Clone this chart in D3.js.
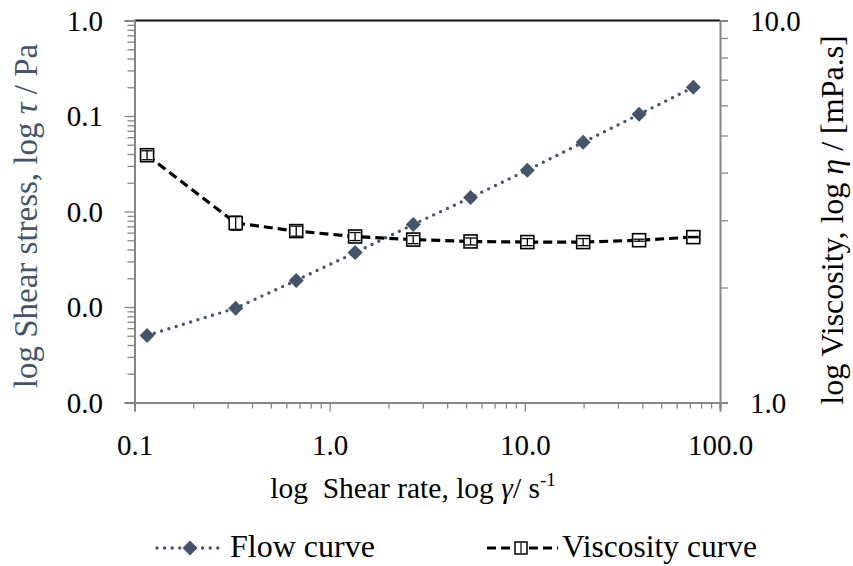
<!DOCTYPE html>
<html>
<head>
<meta charset="utf-8">
<script src="https://cdn.jsdelivr.net/npm/d3@7/dist/d3.min.js"></script>
<style>
  html, body { margin: 0; padding: 0; background: #fff; }
  svg text { font-family: "Liberation Serif", "DejaVu Serif", "Noto Serif", "Times New Roman", serif; }
  .pre { white-space: pre; }
</style>
</head>
<body>
<svg id="chart" width="853" height="566"></svg>
<script>
// Shear rate (1/s) for each measurement
const shearRate = [0.116, 0.33, 0.674, 1.35, 2.68, 5.27, 10.3, 19.9, 38.5, 73.0];
// Flow curve: shear stress (Pa)
const shearStress = [5.03e-4, 9.73e-4, 1.90e-3, 3.71e-3, 7.31e-3, 0.0140, 0.0271, 0.0530, 0.104, 0.200];
// Viscosity curve: viscosity (mPa.s) and its standard deviation
const viscosity = [4.44, 2.95, 2.81, 2.72, 2.67, 2.64, 2.63, 2.63, 2.66, 2.71];
const viscosityErr = [0.12, 0.125, 0.085, 0.066, 0.065, 0.056, 0.056, 0.056, 0.016, 0.01];
// Axis ticks
const xTicks = [0.1, 1, 10, 100];
const stressTicks = [0.0001, 0.001, 0.01, 0.1, 1];
const viscTicks = [1, 10];
const seriesNames = ["Flow curve", "Viscosity curve"];

const flowColor = "#44546A";
const axisColor = "#868686";
const serif = '"Liberation Serif", "DejaVu Serif", "Noto Serif", serif';
const fmt = d3.format(".1f");

const plot = { left: 134.5, right: 720, top: 20.5, bottom: 402.5 };
const svg = d3.select("#chart");

const x = d3.scaleLog().domain([0.1, 100]).range([plot.left, plot.right]);
const yL = d3.scaleLog().domain([1e-4, 1]).range([plot.bottom, plot.top]);
const yR = d3.scaleLog().domain([1, 10]).range([plot.bottom, plot.top]);

// minor tick positions: 2..9 within each decade
function minors(lo, hi) {
  const out = [];
  for (let p = Math.log10(lo); p < Math.log10(hi); p++) {
    for (let k = 2; k <= 9; k++) out.push(k * Math.pow(10, p));
  }
  return out;
}

function styleAxis(g) {
  g.attr("font-family", serif);
  g.select(".domain").attr("stroke", axisColor).attr("stroke-width", 2);
  g.selectAll(".tick line").attr("stroke", axisColor).attr("stroke-width", 1.3);
  g.selectAll(".tick text").style("font-family", serif);
}

// top border
svg.append("line")
  .attr("x1", plot.left).attr("x2", plot.right)
  .attr("y1", plot.top).attr("y2", plot.top)
  .attr("stroke", "#111").attr("stroke-width", 2);

// x axis
const gxMinor = svg.append("g").attr("transform", `translate(0,${plot.bottom})`)
  .call(d3.axisBottom(x).tickValues(minors(0.1, 100)).tickSize(6).tickFormat(""));
styleAxis(gxMinor);
const gx = svg.append("g").attr("transform", `translate(0,${plot.bottom})`)
  .call(d3.axisBottom(x).tickValues(xTicks).tickSize(9).tickFormat(fmt));
styleAxis(gx);
gx.selectAll(".tick text").attr("y", 52.5).attr("dy", 0)
  .attr("font-size", 29).attr("fill", "#000");

// left axis (shear stress)
const gyMinor = svg.append("g").attr("transform", `translate(${plot.left},0)`)
  .call(d3.axisLeft(yL).tickValues(minors(1e-4, 1)).tickSize(7).tickFormat(""));
styleAxis(gyMinor);
const gy = svg.append("g").attr("transform", `translate(${plot.left},0)`)
  .call(d3.axisLeft(yL).tickValues(stressTicks).tickSize(10).tickFormat(fmt));
styleAxis(gy);
gy.selectAll(".tick text").attr("x", -31.5).attr("dy", "0.34em")
  .attr("font-size", 29).attr("fill", "#000");

// right axis (viscosity)
const gr = svg.append("g").attr("transform", `translate(${plot.right},0)`)
  .call(d3.axisRight(yR).tickValues(d3.range(1, 11)).tickSize(8)
    .tickFormat(d => viscTicks.includes(d) ? fmt(d) : ""));
styleAxis(gr);
gr.selectAll(".tick text").attr("x", 30).attr("dy", "0.34em")
  .attr("font-size", 29).attr("fill", "#000");

// flow curve
const flowData = shearRate.map((r, i) => ({ r, v: shearStress[i] }));
svg.append("path").datum(flowData)
  .attr("fill", "none").attr("stroke", flowColor)
  .attr("stroke-width", 3.4).attr("stroke-linecap", "round")
  .attr("stroke-dasharray", "0 7.6")
  .attr("d", d3.line().x(d => x(d.r)).y(d => yL(d.v)));

const diamond = "M0,-7.5L7.5,0L0,7.5L-7.5,0Z";
svg.append("g").selectAll("path").data(flowData).join("path")
  .attr("d", diamond).attr("fill", flowColor)
  .attr("transform", d => `translate(${x(d.r)},${yL(d.v)})`);

// viscosity curve
const viscData = shearRate.map((r, i) => ({ r, v: viscosity[i], e: viscosityErr[i] }));
svg.append("path").datum(viscData)
  .attr("fill", "none").attr("stroke", "#000")
  .attr("stroke-width", 3.2)
  .attr("stroke-dasharray", "9 5")
  .attr("d", d3.line().x(d => x(d.r)).y(d => yR(d.v)));

const sq = svg.append("g").selectAll("g").data(viscData).join("g")
  .attr("transform", d => `translate(${x(d.r)},0)`);
sq.append("rect")
  .attr("x", -6.5).attr("width", 13).attr("height", 13)
  .attr("y", d => yR(d.v) - 6.5)
  .attr("fill", "#fff").attr("stroke", "#000").attr("stroke-width", 1.6);
// error bars
sq.append("line")
  .attr("x1", 0).attr("x2", 0)
  .attr("y1", d => yR(d.v + d.e)).attr("y2", d => yR(d.v - d.e))
  .attr("stroke", "#000").attr("stroke-width", 1.3);
sq.append("line")
  .attr("x1", -5.5).attr("x2", 5.5)
  .attr("y1", d => yR(d.v + d.e)).attr("y2", d => yR(d.v + d.e))
  .attr("stroke", "#000").attr("stroke-width", 1.3);
sq.append("line")
  .attr("x1", -5.5).attr("x2", 5.5)
  .attr("y1", d => yR(d.v - d.e)).attr("y2", d => yR(d.v - d.e))
  .attr("stroke", "#000").attr("stroke-width", 1.3);

// axis titles
const xt = svg.append("text").attr("class", "pre")
  .attr("x", 413).attr("y", 498).attr("text-anchor", "middle")
  .attr("font-size", 29.5).attr("fill", "#000");
xt.append("tspan").text("log  Shear rate, log ");
xt.append("tspan").attr("font-style", "italic").text("γ");
xt.append("tspan").text("/ s");
xt.append("tspan").attr("font-size", 19).attr("dy", -12).text("-1");

const lt = svg.append("text").attr("class", "pre")
  .attr("transform", "translate(37,216) rotate(-90)")
  .attr("text-anchor", "middle").attr("font-size", 33).attr("fill", flowColor);
lt.append("tspan").text("log Shear stress, log ");
lt.append("tspan").attr("font-style", "italic").text("τ");
lt.append("tspan").text(" / Pa");

const rt = svg.append("text").attr("class", "pre")
  .attr("transform", "translate(843,220) rotate(-90)")
  .attr("text-anchor", "middle").attr("font-size", 32).attr("fill", "#000");
rt.append("tspan").text("log Viscosity, log ");
rt.append("tspan").attr("font-style", "italic").text("η");
rt.append("tspan").text(" / [mPa.s]");

// legend
const legY = 548;
const lg = svg.append("g");
lg.append("line").attr("x1", 157).attr("x2", 224).attr("y1", legY).attr("y2", legY)
  .attr("stroke", flowColor).attr("stroke-width", 3.4).attr("stroke-linecap", "round")
  .attr("stroke-dasharray", "0 7.6");
lg.append("path").attr("d", diamond).attr("fill", flowColor)
  .attr("transform", `translate(190,${legY})`);
lg.append("text").attr("x", 230).attr("y", 557).attr("font-size", 32)
  .attr("fill", "#000").text(seriesNames[0]);

lg.append("line").attr("x1", 487).attr("x2", 558).attr("y1", legY).attr("y2", legY)
  .attr("stroke", "#000").attr("stroke-width", 3.2).attr("stroke-dasharray", "9 5");
lg.append("rect").attr("x", 515).attr("y", legY - 6).attr("width", 12).attr("height", 12)
  .attr("fill", "#fff").attr("stroke", "#000").attr("stroke-width", 1.5);
lg.append("line").attr("x1", 521).attr("x2", 521).attr("y1", legY - 5).attr("y2", legY + 5)
  .attr("stroke", "#000").attr("stroke-width", 1.2);
lg.append("text").attr("x", 562).attr("y", 557).attr("font-size", 31.5)
  .attr("fill", "#000").text(seriesNames[1]);
</script>
</body>
</html>
